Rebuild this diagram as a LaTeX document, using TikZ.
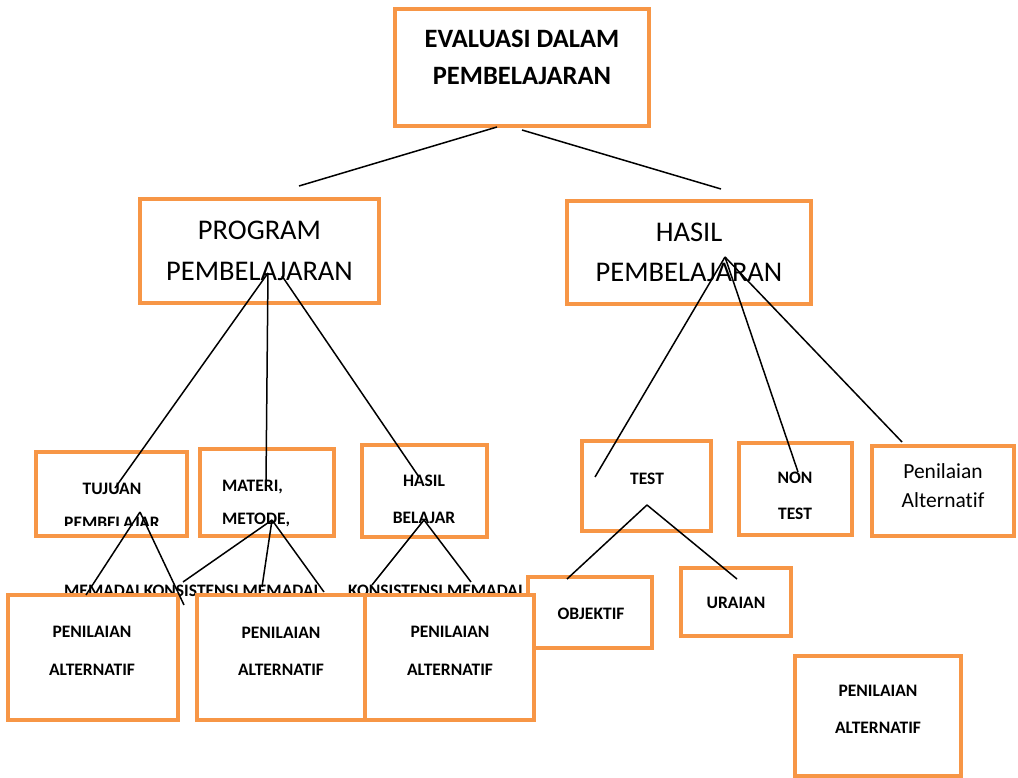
\documentclass[tikz,border=0pt]{standalone}
\usepackage{fontspec}
\setmainfont[Ligatures=NoCommon]{Carlito}
\definecolor{bor}{HTML}{F79646}
\begin{document}
\begin{tikzpicture}[x=1pt,y=-1pt,
  box/.style={draw=bor,line width=4pt,fill=white,rectangle,inner sep=0pt},
  lbl/.style={font=\fontsize{17.5}{18}\selectfont\bfseries,anchor=base,inner sep=0pt},
  lbll/.style={lbl,anchor=base west},
  big/.style={font=\fontsize{28.5}{30}\selectfont,anchor=base,inner sep=0pt},
  ttl/.style={font=\fontsize{26.5}{27}\selectfont\bfseries,anchor=base,inner sep=0pt},
  mid/.style={font=\fontsize{21.5}{22}\selectfont,anchor=base,inner sep=0pt},
  con/.style={draw=black,line width=1.5pt}]
\useasboundingbox (0,0) rectangle (1018,778);
\fill[white] (0,0) rectangle (1018,778);

% overflowing labels (under the boxes)
\node[lbll] (lrowa) at (64,596) {MEMADAI KONSISTENSI MEMADAI};
\node[lbll] (lrowb) at (348,596) {KONSISTENSI MEMADAI};

% boxes
\node[box,minimum width=124pt,minimum height=71pt] (obj) at (590,612.5) {};
\node[box,minimum width=170pt,minimum height=125pt] (b1) at (93,657.5) {};
\node[box,minimum width=167.5pt,minimum height=125pt] (b2) at (280.75,657.5) {};
\node[box,minimum width=169.5pt,minimum height=125pt] (b3) at (449.25,657.5) {};
\node[box,minimum width=254pt,minimum height=117pt] (top) at (522,67.5) {};
\node[box,minimum width=239pt,minimum height=104pt] (prog) at (259.5,251) {};
\node[box,minimum width=244pt,minimum height=103pt] (hasil) at (689,252.5) {};
\node[box,minimum width=151pt,minimum height=84pt] (tuj) at (111.5,494) {};
\node[box,minimum width=134pt,minimum height=87pt] (mat) at (267,492.5) {};
\node[box,minimum width=125pt,minimum height=92pt] (hb) at (424.5,491) {};
\node[box,minimum width=129pt,minimum height=90pt] (test) at (646.5,486) {};
\node[box,minimum width=113pt,minimum height=92pt] (non) at (795.5,489) {};
\node[box,minimum width=142pt,minimum height=90pt] (pa) at (943,491) {};
\node[box,minimum width=110pt,minimum height=68pt] (ura) at (736,602) {};
\node[box,minimum width=166pt,minimum height=120pt] (br) at (878,716) {};

% texts
\node[ttl] (t1) at (522,47.5) {EVALUASI DALAM};
\node[ttl] (t2) at (522,84.5) {PEMBELAJARAN};
\node[big] (p1t) at (259.5,240) {PROGRAM};
\node[big] (p2t) at (259.5,281) {PEMBELAJARAN};
\node[big] (h1t) at (689,242) {HASIL};
\node[big] (h2t) at (689,282) {PEMBELAJARAN};
\node[lbl] (tu1t) at (112,494.5) {TUJUAN};
\begin{scope}
\clip (40,456) rectangle (183,525);
\node[lbl] (tu2t) at (112,528) {PEMBELAJAR};
\end{scope}
\node[lbll] (ma1t) at (222,491.5) {MATERI,};
\node[lbll] (ma2t) at (222,524.5) {METODE,};
\node[lbl] (hb1t) at (424,486.5) {HASIL};
\node[lbl] (hb2t) at (424,523.5) {BELAJAR};
\node[lbl] (tet) at (647,484.5) {TEST};
\node[lbl] (no1t) at (795,483.5) {NON};
\node[lbl] (no2t) at (795,519.5) {TEST};
\node[mid] (pa1t) at (943,478) {Penilaian};
\node[mid] (pa2t) at (943,507) {Alternatif};
\node[lbl] (b1a) at (92,637.5) {PENILAIAN};
\node[lbl] (b1b) at (92,675.5) {ALTERNATIF};
\node[lbl] (b2a) at (281,638.5) {PENILAIAN};
\node[lbl] (b2b) at (281,675.5) {ALTERNATIF};
\node[lbl] (b3a) at (450,637.5) {PENILAIAN};
\node[lbl] (b3b) at (450,675.5) {ALTERNATIF};
\node[lbl] (objt) at (591,619.5) {OBJEKTIF};
\node[lbl] (urat) at (736,608.5) {URAIAN};
\node[lbl] (br1) at (878,696.5) {PENILAIAN};
\node[lbl] (br2) at (878,733.5) {ALTERNATIF};

% connector points
\coordinate (e1) at (497,127); \coordinate (pe) at (299,186);
\coordinate (e2) at (522,130); \coordinate (he) at (721,189);
\coordinate (po) at (268,273); \coordinate (po3) at (282,276);
\coordinate (tuA) at (115,488); \coordinate (maA) at (266,482); \coordinate (hbA) at (419,477);
\coordinate (ho) at (725,257);
\coordinate (teA) at (595,477); \coordinate (noA) at (798,472); \coordinate (paA) at (902,442);
\coordinate (tuo) at (140,512); \coordinate (tuB1) at (86,595); \coordinate (tuB2) at (184,605);
\coordinate (mao) at (272,520); \coordinate (maB1) at (183,582); \coordinate (maB2) at (262,587); \coordinate (maB3) at (324,592);
\coordinate (hbo) at (424,520); \coordinate (hbB1) at (372,585); \coordinate (hbB2) at (471,582);
\coordinate (teo) at (647,505); \coordinate (teB1) at (567,579); \coordinate (teB2) at (737,579);

\draw[con] (e1) -- (pe);
\draw[con] (e2) -- (he);
\draw[con] (po) -- (tuA);
\draw[con] (po) -- (maA);
\draw[con] (po3) -- (hbA);
\draw[con] (ho) -- (teA);
\draw[con] (ho) -- (noA);
\draw[con] (ho) -- (paA);
\draw[con] (tuo) -- (tuB1);
\draw[con] (tuo) -- (tuB2);
\draw[con] (mao) -- (maB1);
\draw[con] (mao) -- (maB2);
\draw[con] (mao) -- (maB3);
\draw[con] (hbo) -- (hbB1);
\draw[con] (hbo) -- (hbB2);
\draw[con] (teo) -- (teB1);
\draw[con] (teo) -- (teB2);
\end{tikzpicture}
\end{document}
